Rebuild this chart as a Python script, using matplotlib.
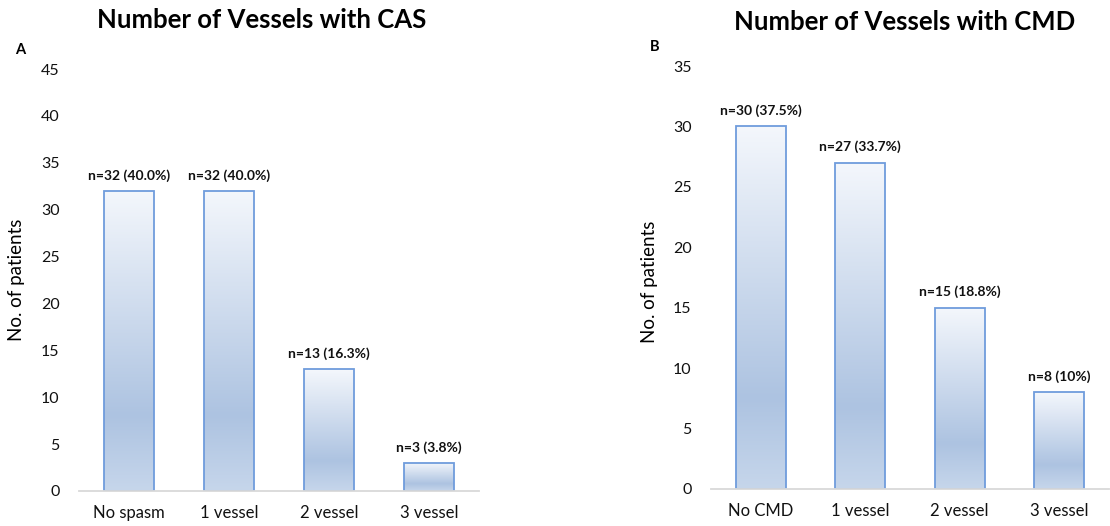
import matplotlib
matplotlib.use("Agg")
import matplotlib.pyplot as plt
import numpy as np
from matplotlib.colors import LinearSegmentedColormap

plt.rcParams['font.family'] = ['Lato', 'DejaVu Sans']

# Data
cas_categories = ["No spasm", "1 vessel", "2 vessel", "3 vessel"]
cas_values = [32, 32, 13, 3]
cas_labels = ["n=32 (40.0%)", "n=32 (40.0%)", "n=13 (16.3%)", "n=3 (3.8%)"]
cas_yticks = [0, 5, 10, 15, 20, 25, 30, 35, 40, 45]

cmd_categories = ["No CMD", "1 vessel", "2 vessel", "3 vessel"]
cmd_values = [30, 27, 15, 8]
cmd_labels = ["n=30 (37.5%)", "n=27 (33.7%)", "n=15 (18.8%)", "n=8 (10%)"]
cmd_yticks = [0, 5, 10, 15, 20, 25, 30, 35]

W, H = 1110, 526
fig = plt.figure(figsize=(W / 100, H / 100), dpi=100)

cmap = LinearSegmentedColormap.from_list(
    "grad", [(0.0, "#f4f7fc"), (0.75, "#adc3e1"), (1.0, "#c6d6eb")])
grad = np.linspace(0, 1, 256).reshape(-1, 1)


def draw_panel(ax, cats, vals, labels, yticks, ymax):
    x = np.arange(len(cats))
    bars = ax.bar(x, vals, width=0.5, facecolor="none",
                  edgecolor="#6f9cdc", linewidth=1.3, zorder=3)
    for b in bars:
        x0, y0 = b.get_x(), b.get_y()
        w, h = b.get_width(), b.get_height()
        im = ax.imshow(grad, cmap=cmap, aspect="auto",
                       extent=(x0, x0 + w, y0, y0 + h), origin="upper",
                       zorder=2, interpolation="bilinear")
        im.set_clip_path(b)
    for xi, v, lab in zip(x, vals, labels):
        ax.text(xi, v + ymax * 0.022, lab, ha="center", va="bottom",
                fontsize=10, fontweight="bold", color="#111111")
    ax.set_xlim(-0.5, len(cats) - 0.5)
    ax.set_ylim(0, ymax)
    ax.set_xticks(x)
    ax.set_xticklabels(cats, fontsize=12)
    ax.set_yticks(yticks)
    ax.set_yticklabels([str(t) for t in yticks], fontsize=11.5)
    ax.tick_params(axis="both", length=0, colors="#111111")
    ax.tick_params(axis="y", pad=14)
    ax.tick_params(axis="x", pad=10)
    for s in ["top", "right", "left"]:
        ax.spines[s].set_visible(False)
    ax.spines["bottom"].set_color("#d9d9d9")
    ax.spines["bottom"].set_linewidth(1.3)
    ax.spines["bottom"].set_zorder(4)


ax1 = fig.add_axes([79 / W, 35 / H, 400 / W, 422 / H])
draw_panel(ax1, cas_categories, cas_values, cas_labels, cas_yticks, 45)
ax2 = fig.add_axes([711 / W, 37 / H, 398 / W, 423 / H])
draw_panel(ax2, cmd_categories, cmd_values, cmd_labels, cmd_yticks, 35)

fig.text(17 / W, 1 - 280 / H, "No. of patients", rotation=90,
         ha="center", va="center", fontsize=13.5)
fig.text(650 / W, 1 - 282 / H, "No. of patients", rotation=90,
         ha="center", va="center", fontsize=13.5)

fig.text(262 / W, 1 - 20 / H, "Number of Vessels with CAS", ha="center",
         va="center", fontsize=18.5, fontweight="bold")
fig.text(905 / W, 1 - 22 / H, "Number of Vessels with CMD", ha="center",
         va="center", fontsize=18.5, fontweight="bold")

fig.text(20 / W, 1 - 50 / H, "A", ha="center", va="center", fontsize=10.5,
         fontweight="bold")
fig.text(655 / W, 1 - 47 / H, "B", ha="center", va="center", fontsize=10.5,
         fontweight="bold")

fig.savefig("out.png", dpi=100)
